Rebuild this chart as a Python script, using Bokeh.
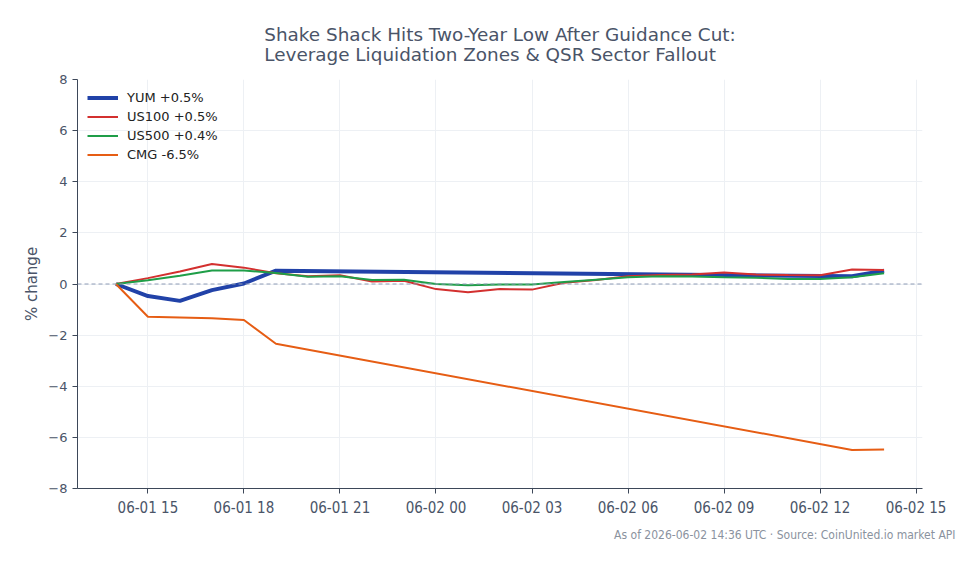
import pandas as pd
from bokeh.plotting import figure
from bokeh.models import (Range1d, FixedTicker, DatetimeTickFormatter, Span,
                          Legend, LegendItem, Title)
from bokeh.embed import file_html
from bokeh.resources import INLINE

# ---------------- data ----------------
title_lines = ["Shake Shack Hits Two-Year Low After Guidance Cut:",
               "Leverage Liquidation Zones & QSR Sector Fallout"]
footnote = "As of 2026-06-02 14:36 UTC \u00b7 Source: CoinUnited.io market API"

index_times = ["2026-06-01 14:00", "2026-06-01 15:00", "2026-06-01 16:00", "2026-06-01 17:00",
               "2026-06-01 18:00", "2026-06-01 19:00", "2026-06-01 20:00", "2026-06-01 21:00",
               "2026-06-01 22:00", "2026-06-01 23:00", "2026-06-02 00:00", "2026-06-02 01:00",
               "2026-06-02 02:00", "2026-06-02 03:00", "2026-06-02 04:00", "2026-06-02 05:00",
               "2026-06-02 06:00", "2026-06-02 07:00", "2026-06-02 08:00", "2026-06-02 09:00",
               "2026-06-02 10:00", "2026-06-02 11:00", "2026-06-02 12:00", "2026-06-02 13:00",
               "2026-06-02 14:00"]
us100_vals = [0.0, 0.23, 0.49, 0.78, 0.64, 0.42, 0.30, 0.34, 0.10, 0.13, -0.20, -0.32,
              -0.20, -0.22, 0.05, 0.16, 0.30, 0.35, 0.37, 0.45, 0.37, 0.35, 0.34, 0.57, 0.55]
us500_vals = [0.0, 0.15, 0.32, 0.53, 0.53, 0.43, 0.28, 0.30, 0.16, 0.17, 0.0, -0.05,
              -0.02, -0.02, 0.08, 0.17, 0.26, 0.30, 0.29, 0.26, 0.24, 0.20, 0.20, 0.26, 0.42]

stock_times = ["2026-06-01 14:00", "2026-06-01 15:00", "2026-06-01 16:00", "2026-06-01 17:00",
               "2026-06-01 18:00", "2026-06-01 19:00", "2026-06-02 13:00", "2026-06-02 14:00"]
yum_vals = [0.0, -0.47, -0.66, -0.24, 0.02, 0.52, 0.30, 0.52]
cmg_vals = [0.0, -1.28, -1.31, -1.34, -1.41, -2.34, -6.49, -6.47]

series_names = ["YUM +0.5%", "US100 +0.5%", "US500 +0.4%", "CMG -6.5%"]
series_colors = ["#2142a8", "#d3302f", "#1f9e48", "#e65d14"]

x_tick_labels = ["2026-06-01 15:00", "2026-06-01 18:00", "2026-06-01 21:00", "2026-06-02 00:00",
                 "2026-06-02 03:00", "2026-06-02 06:00", "2026-06-02 09:00", "2026-06-02 12:00",
                 "2026-06-02 15:00"]
y_ticks = [-8, -6, -4, -2, 0, 2, 4, 6, 8]

# ---------------- figure ----------------
TXT = "#4a5468"
ix = pd.to_datetime(index_times)
sx = pd.to_datetime(stock_times)
t0, t1 = ix.min(), ix.max()
pad = (t1 - t0) * 0.05

p = figure(width=979, height=564, x_axis_type="datetime", output_backend="svg",
           toolbar_location=None, title=None,
           x_range=Range1d(t0 - pad, t1 + pad), y_range=Range1d(-8, 8),
           min_border_left=77, min_border_right=57, min_border_top=79, min_border_bottom=76)
p.outline_line_color = None
p.background_fill_color = "white"
p.border_fill_color = "white"

p.xaxis.ticker = FixedTicker(ticks=[pd.Timestamp(t).value / 1e6 for t in x_tick_labels])
p.xaxis.formatter = DatetimeTickFormatter(hours="%m-%d %H", days="%m-%d %H")
p.yaxis.ticker = FixedTicker(ticks=y_ticks)
p.yaxis.major_label_overrides = {v: (str(v).replace("-", "\u2212")) for v in y_ticks}

for ax in (p.xaxis, p.yaxis):
    ax.axis_line_color = "#3d4859"
    ax.major_tick_line_color = "#3d4859"
    ax.major_tick_out = 5
    ax.major_tick_in = 0
    ax.minor_tick_line_color = None
    ax.major_label_text_color = TXT
p.xaxis.major_label_text_font = "DejaVu Sans Condensed"
p.xaxis.major_label_text_font_size = "15px"
p.yaxis.major_label_text_font = "DejaVu Sans"
p.yaxis.major_label_text_font_size = "13px"
p.yaxis.axis_label = "% change"
p.yaxis.axis_label_text_font_style = "normal"
p.yaxis.axis_label_text_font = "DejaVu Sans"
p.yaxis.axis_label_text_font_size = "15px"
p.yaxis.axis_label_text_color = TXT
p.yaxis.axis_label_standoff = 4

p.xgrid.grid_line_color = "#edf0f4"
p.ygrid.grid_line_color = "#edf0f4"

p.add_layout(Span(location=0, dimension="width", line_color="#8e9bb5",
                  line_width=1, line_dash="4 3"))

r_yum = p.line(sx, yum_vals, line_color=series_colors[0], line_width=4)
r_us100 = p.line(ix, us100_vals, line_color=series_colors[1], line_width=2)
r_us500 = p.line(ix, us500_vals, line_color=series_colors[2], line_width=2)
r_cmg = p.line(sx, cmg_vals, line_color=series_colors[3], line_width=2)

legend = Legend(items=[LegendItem(label=n, renderers=[r]) for n, r in
                       zip(series_names, [r_yum, r_us100, r_us500, r_cmg])],
                location="top_left", margin=10, padding=6, spacing=2,
                glyph_width=31, glyph_height=17, label_height=17, label_standoff=9,
                label_text_font="DejaVu Sans", label_text_font_size="13px",
                label_text_color="#222222", border_line_color=None,
                background_fill_alpha=0.0)
p.add_layout(legend)

p.add_layout(Title(text="\n".join(title_lines), align="center", text_font="DejaVu Sans",
                   text_font_size="18.4px", text_font_style="normal", text_line_height=0.94,
                   text_color=TXT, standoff=29), "above")

p.add_layout(Title(text=footnote, align="right", offset=-33, text_font="DejaVu Sans Condensed",
                   text_font_size="12px", text_font_style="normal",
                   text_color="#8a929e", standoff=12), "below")

open("out.html", "w").write(file_html(p, INLINE))
